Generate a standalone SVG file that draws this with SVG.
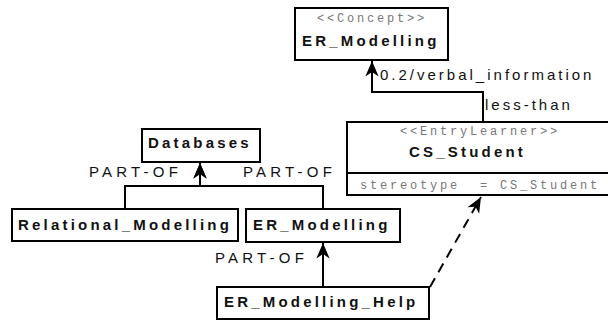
<svg xmlns="http://www.w3.org/2000/svg" width="608" height="320" viewBox="0 0 608 320">
<defs>
<marker id="ah" markerUnits="userSpaceOnUse" markerWidth="20" markerHeight="20" viewBox="-16 -8 18 16" refX="0" refY="0" orient="auto">
<path d="M0,0 L-14,-6 L-10,0 L-14,6 Z" fill="#000"/>
</marker>
</defs>
<style>
.box{fill:#fff;stroke:#000;stroke-width:2}
.name{font-family:"Liberation Sans",Arial,sans-serif;font-weight:bold;font-size:15px;letter-spacing:3.2px;fill:#111}
.ster{font-family:"Liberation Mono","Courier New",monospace;font-size:12px;letter-spacing:2.8px;fill:#777;white-space:pre}
.lbl{font-family:"Liberation Sans",Arial,sans-serif;font-size:15px;letter-spacing:3px;fill:#111}
.po{letter-spacing:4.2px}
.ln{fill:none;stroke:#000;stroke-width:2}
.dash{stroke-dasharray:10 7}
</style>
<g id="connectors">
<path class="ln" d="M483,122 V92 H372 V61" marker-end="url(#ah)"/>
<path class="ln" d="M125,209 V186 H200 V163" marker-end="url(#ah)"/>
<path class="ln" d="M323,209 V186 H200 V163" marker-end="url(#ah)"/>
<path class="ln" d="M323,287 V243" marker-end="url(#ah)"/>
<path class="ln dash" d="M430,287 L481,197" marker-end="url(#ah)"/>
<text class="lbl" x="380" y="80">0.2/verbal_information</text>
<text class="lbl" x="485" y="110">less-than</text>
<text class="lbl po" x="89" y="177">PART-OF</text>
<text class="lbl po" x="243" y="177">PART-OF</text>
<text class="lbl po" x="215" y="263">PART-OF</text>
</g>
<g id="concept-er-modelling">
<rect class="box" x="295" y="8" width="153" height="52"/>
<text class="ster" x="317" y="22">&lt;&lt;Concept&gt;&gt;</text>
<text class="name" x="302" y="46">ER_Modelling</text>
</g>
<g id="cs-student">
<rect class="box" x="347" y="122" width="268" height="73"/>
<line x1="347" y1="173" x2="615" y2="173" stroke="#000" stroke-width="2"/>
<text class="ster" x="400" y="135">&lt;&lt;EntryLearner&gt;&gt;</text>
<text class="name" x="409" y="157">CS_Student</text>
<text class="ster" x="360" y="189" xml:space="preserve">stereotype  = CS_Student</text>
</g>
<g id="databases">
<rect class="box" x="142" y="129" width="118" height="33"/>
<text class="name" x="148" y="148">Databases</text>
</g>
<g id="relational-modelling">
<rect class="box" x="12" y="209" width="226" height="32"/>
<text class="name" x="18" y="230">Relational_Modelling</text>
</g>
<g id="er-modelling">
<rect class="box" x="246" y="209" width="154" height="33"/>
<text class="name" x="253" y="230">ER_Modelling</text>
</g>
<g id="er-modelling-help">
<rect class="box" x="217" y="287" width="212" height="32"/>
<text class="name" x="224" y="307">ER_Modelling_Help</text>
</g>
</svg>
